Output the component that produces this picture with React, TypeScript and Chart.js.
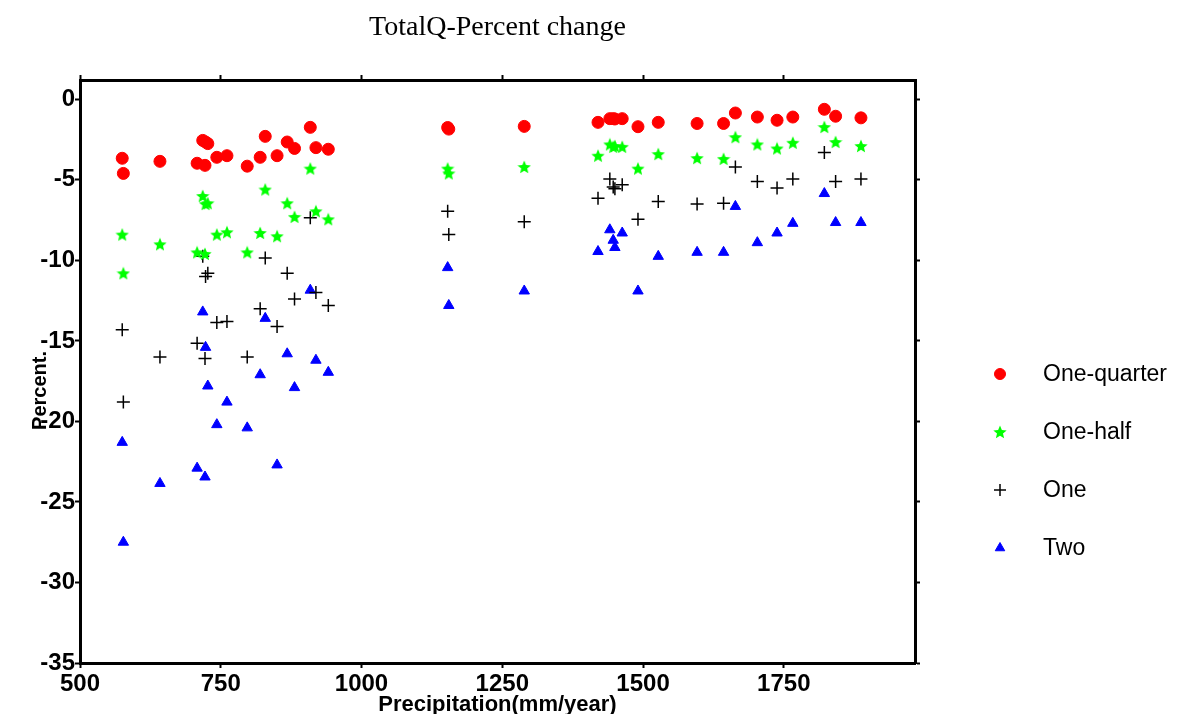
import React, { useEffect, useRef } from 'react';
import { Chart, registerables } from 'chart.js';
import { drawPoint } from 'chart.js/helpers';

Chart.register(...registerables);

const precipitation = [575, 577, 642, 708, 722, 718, 723, 727, 743, 761, 797, 820, 829, 850, 868, 881, 909, 919, 941, 1153, 1155, 1289, 1420, 1441, 1447, 1450, 1463, 1491, 1527, 1596, 1643, 1664, 1703, 1738, 1766, 1822, 1842, 1887];
const oneQuarter = [-3.66, -4.6, -3.85, -3.97, -4.1, -2.55, -2.65, -2.75, -3.6, -3.5, -4.15, -3.6, -2.3, -3.5, -2.65, -3.05, -1.74, -3.0, -3.1, -1.75, -1.85, -1.68, -1.43, -1.2, -1.2, -1.22, -1.2, -1.7, -1.43, -1.5, -1.5, -0.85, -1.1, -1.3, -1.1, -0.62, -1.05, -1.15];
const oneHalf = [-8.4, -10.8, -9.0, -9.5, -9.6, -6.0, -6.5, -6.45, -8.4, -8.25, -9.5, -8.3, -5.6, -8.5, -6.45, -7.3, -4.3, -6.95, -7.45, -4.3, -4.6, -4.2, -3.5, -2.8, -2.95, -2.9, -2.95, -4.3, -3.4, -3.65, -3.7, -2.35, -2.8, -3.05, -2.7, -1.72, -2.65, -2.9];
const one = [-14.3, -18.8, -16.0, -15.15, -16.1, -9.75, -11.0, -10.8, -13.85, -13.8, -16.0, -13.0, -9.85, -14.1, -10.8, -12.4, -7.35, -12.0, -12.8, -6.95, -8.4, -7.6, -6.15, -4.95, -5.45, -5.55, -5.3, -7.45, -6.35, -6.5, -6.45, -4.2, -5.1, -5.5, -4.95, -3.3, -5.1, -4.95];
const two = [-21.3, -27.5, -23.85, -22.9, -23.45, -13.2, -15.4, -17.8, -20.2, -18.8, -20.4, -17.1, -13.6, -22.7, -15.8, -17.9, -11.85, -16.2, -16.95, -10.45, -12.8, -11.9, -9.45, -8.1, -8.75, -9.2, -8.3, -11.9, -9.75, -9.5, -9.5, -6.65, -8.9, -8.3, -7.7, -5.85, -7.65, -7.65];

const seriesLabels = ['One-quarter', 'One-half', 'One', 'Two'];
const xTicks = [500, 750, 1000, 1250, 1500, 1750];
const yTicks = [0, -5, -10, -15, -20, -25, -30, -35];
const X_MIN = 500;
const X_MAX = 1983;
const Y_MIN = -35;
const Y_MAX = 1.2;

const TITLE = 'TotalQ-Percent change';
const X_TITLE = 'Precipitation(mm/year)';
const Y_TITLE = 'Percent.';

const SANS = "'Liberation Sans', Arial, sans-serif";

function makeStar(size: number, color: string) {
  const c = document.createElement('canvas');
  c.width = size;
  c.height = size;
  const ctx = c.getContext('2d') as CanvasRenderingContext2D;
  const cx = size / 2;
  const cy = size / 2 + 0.6;
  const R = size / 2;
  const r = R * 0.45;
  ctx.beginPath();
  for (let i = 0; i < 10; i++) {
    const ang = -Math.PI / 2 + (i * Math.PI) / 5;
    const rad = i % 2 === 0 ? R : r;
    ctx.lineTo(cx + rad * Math.cos(ang), cy + rad * Math.sin(ang));
  }
  ctx.closePath();
  ctx.fillStyle = color;
  ctx.fill();
  return c;
}

const toPoints = (ys: number[]) => precipitation.map((x, i) => ({ x, y: ys[i] }));

const sideLegend = {
  id: 'sideLegend',
  afterDraw(chart: any) {
    const ctx = chart.ctx as CanvasRenderingContext2D;
    const { right, top, bottom } = chart.chartArea;
    ctx.save();
    chart.data.datasets.forEach((ds: any, i: number) => {
      const x = right + 85;
      const y = top + 294 + i * 58;
      ctx.fillStyle = ds.backgroundColor;
      ctx.strokeStyle = ds.borderColor;
      ctx.lineWidth = ds.borderWidth;
      drawPoint(ctx, { pointStyle: ds.pointStyle, radius: ds.pointRadius - 0.5, rotation: 0, borderWidth: ds.borderWidth } as any, x, y);
      ctx.fillStyle = '#000';
      ctx.font = `23px ${SANS}`;
      ctx.textBaseline = 'middle';
      ctx.textAlign = 'left';
      ctx.fillText(ds.label, right + 128, y + 1);
    });
    // y-axis title, placed as in the original figure
    ctx.translate(32, (top + bottom) / 2 + 19);
    ctx.rotate(-Math.PI / 2);
    ctx.fillStyle = '#000';
    ctx.font = `bold 20px ${SANS}`;
    ctx.textAlign = 'center';
    ctx.textBaseline = 'middle';
    ctx.fillText(Y_TITLE, 0, 0);
    ctx.restore();
  },
};

function axisCommon(position: string, showLabels: boolean, fit: (s: any) => void, ticksList: number[], min: number, max: number, pad: number) {
  return {
    type: 'linear',
    position,
    min,
    max,
    afterBuildTicks: (scale: any) => {
      scale.ticks = ticksList.map((v) => ({ value: v }));
    },
    afterFit: fit,
    border: { display: true, color: '#000', width: 3 },
    grid: {
      display: true,
      drawOnChartArea: false,
      drawTicks: true,
      tickLength: 5,
      tickColor: '#000',
      tickWidth: 2,
    },
    ticks: {
      display: showLabels,
      color: '#000',
      padding: pad,
      font: { family: SANS, size: 24, weight: 'bold' },
      callback: (v: any) => String(v),
    },
  };
}

export default function App() {
  const ref = useRef<HTMLCanvasElement | null>(null);
  useEffect(() => {
    if (!ref.current) return;
    const star = makeStar(14, '#00ff00');
    const chart = new Chart(ref.current, {
      type: 'scatter',
      data: {
        datasets: [
          { label: seriesLabels[0], data: toPoints(oneQuarter), pointStyle: 'circle', pointRadius: 6, borderWidth: 1, backgroundColor: '#ff0000', borderColor: '#ff0000' },
          { label: seriesLabels[1], data: toPoints(oneHalf), pointStyle: star, pointRadius: 7, borderWidth: 0, backgroundColor: '#00ff00', borderColor: '#00ff00' },
          { label: seriesLabels[2], data: toPoints(one), pointStyle: 'cross', pointRadius: 6.5, borderWidth: 1.5, backgroundColor: '#000', borderColor: '#000' },
          { label: seriesLabels[3], data: toPoints(two), pointStyle: 'triangle', pointRadius: 6, borderWidth: 1, backgroundColor: '#0000ff', borderColor: '#0000ff' },
        ] as any,
      },
      options: {
        animation: false,
        responsive: true,
        maintainAspectRatio: false,
        events: [],
        layout: { padding: { left: 0, right: 258, top: 0, bottom: 0 } },
        plugins: {
          legend: { display: false },
          tooltip: { enabled: false },
          title: {
            display: true,
            text: TITLE,
            fullSize: false,
            color: '#000',
            font: { family: "'Liberation Serif', 'Times New Roman', serif", size: 28, weight: 'normal' },
            padding: { top: 3, bottom: 29.4 },
          },
        },
        scales: {
          x: {
            ...axisCommon('bottom', true, (s: any) => { s.height = 59; }, xTicks, X_MIN, X_MAX, 2),
            title: {
              display: true,
              text: X_TITLE,
              color: '#000',
              font: { family: SANS, size: 22, weight: 'bold', lineHeight: 1 },
              padding: { top: 0, bottom: 6 },
            },
          },
          x2: axisCommon('top', false, (s: any) => { s.height = 6; }, xTicks, X_MIN, X_MAX, 0),
          y: axisCommon('left', true, (s: any) => { s.width = 72; }, yTicks, Y_MIN, Y_MAX, 0),
          y2: axisCommon('right', false, (s: any) => { s.width = 6; }, yTicks, Y_MIN, Y_MAX, 0),
        } as any,
      },
      plugins: [sideLegend],
    });
    return () => chart.destroy();
  }, []);
  return (
    <div style={{ position: 'relative', width: 1171, height: 714, marginBottom: -8 }}>
      <canvas ref={ref} />
    </div>
  );
}
